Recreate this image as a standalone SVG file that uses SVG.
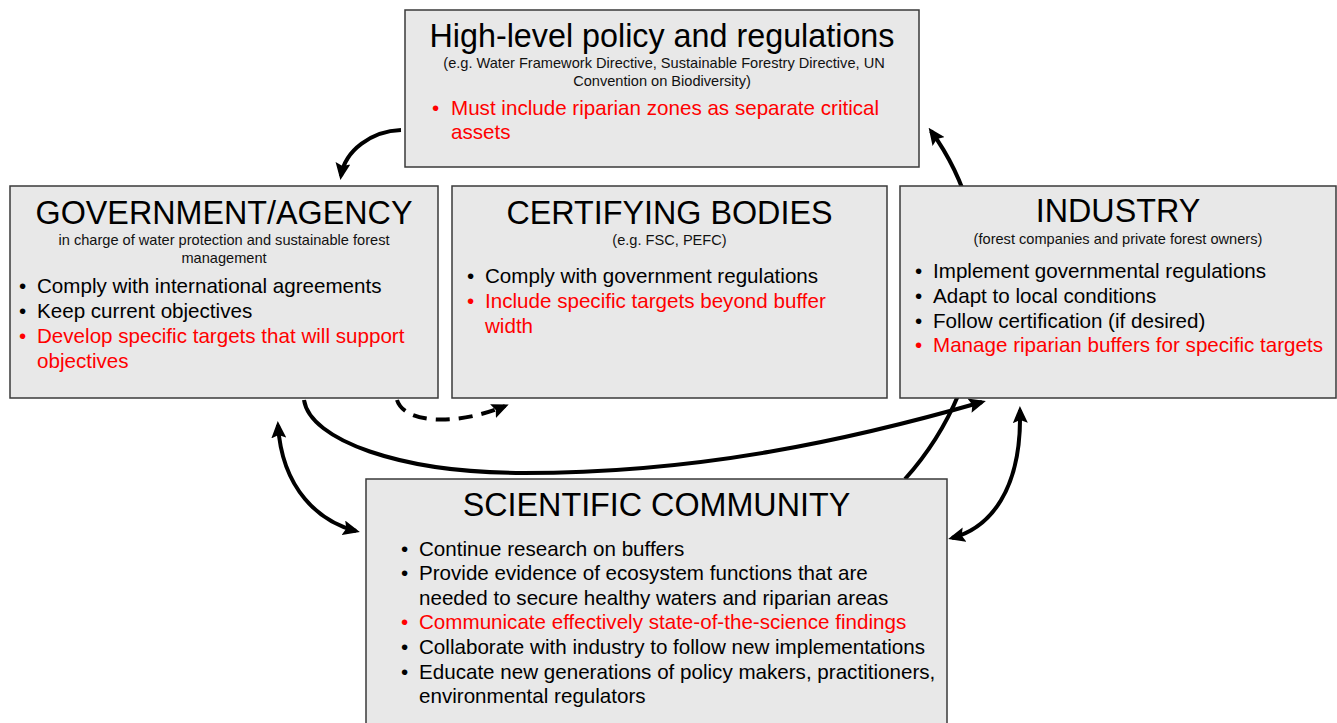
<svg xmlns="http://www.w3.org/2000/svg" width="1337" height="723" viewBox="0 0 1337 723">
<style>
  text { font-family: "Liberation Sans", Arial, sans-serif; fill: #000; }
  .box { fill: #e8e8e8; stroke: #3a3a3a; stroke-width: 1.5; }
  .title { font-size: 32.3px; text-anchor: middle; }
  .sub { font-size: 14.6px; text-anchor: middle; fill: #111; }
  .b { font-size: 20.6px; }
  .red { fill: #ff0000; }
  .conn { fill: none; stroke: #000; stroke-width: 4; }
  .dash { stroke-dasharray: 14 9; }
</style>
<defs>
  <marker id="ah" markerUnits="userSpaceOnUse" markerWidth="17" markerHeight="15" refX="13" refY="7.5" orient="auto-start-reverse">
    <path d="M0,0 L17,7.5 L0,15 L3,7.5 z" fill="#000"/>
  </marker>
</defs>
<rect width="1337" height="723" fill="#fff"/>
<g id="connectors">
  <path class="conn" d="M401,130 C372,131 345,150 341,176" marker-end="url(#ah)"/>
  <path class="conn" d="M905,479 C998,375 1003,230 931,131" marker-end="url(#ah)"/>
  <path class="conn dash" d="M397,400 C405,425 460,425 505,406" marker-end="url(#ah)"/>
  <path class="conn" d="M304,400 C310,440 400,473 524,473 C700,473 850,440 982,402" marker-end="url(#ah)"/>
  <path class="conn" d="M278,425 C282,490 320,522 356,531" marker-start="url(#ah)" marker-end="url(#ah)"/>
  <path class="conn" d="M1020,410 C1022,490 990,528 952,538" marker-start="url(#ah)" marker-end="url(#ah)"/>
</g>
<g id="policy">
  <rect class="box" x="405" y="10" width="514" height="157"/>
  <text class="title" x="662" y="47">High-level policy and regulations</text>
  <text class="sub" x="664" y="68">(e.g. Water Framework Directive, Sustainable Forestry Directive, UN</text>
  <text class="sub" x="662" y="86">Convention on Biodiversity)</text>
  <text class="b red" x="432" y="115">•</text>
  <text class="b red" x="451" y="115">Must include riparian zones as separate critical</text>
  <text class="b red" x="451" y="139">assets</text>
</g>
<g id="government">
  <rect class="box" x="10" y="186" width="428" height="212"/>
  <text class="title" x="224" y="224">GOVERNMENT/AGENCY</text>
  <text class="sub" x="224" y="245">in charge of water protection and sustainable forest</text>
  <text class="sub" x="224" y="263">management</text>
  <text class="b" x="19" y="293">•</text>
  <text class="b" x="37" y="293">Comply with international agreements</text>
  <text class="b" x="19" y="318">•</text>
  <text class="b" x="37" y="318">Keep current objectives</text>
  <text class="b red" x="19" y="343">•</text>
  <text class="b red" x="37" y="343">Develop specific targets that will support</text>
  <text class="b red" x="37" y="368">objectives</text>
</g>
<g id="certifying">
  <rect class="box" x="452" y="186" width="435" height="212"/>
  <text class="title" x="669.5" y="224">CERTIFYING BODIES</text>
  <text class="sub" x="669.5" y="245">(e.g. FSC, PEFC)</text>
  <text class="b" x="467" y="283">•</text>
  <text class="b" x="485" y="283">Comply with government regulations</text>
  <text class="b red" x="467" y="308">•</text>
  <text class="b red" x="485" y="308">Include specific targets beyond buffer</text>
  <text class="b red" x="485" y="333">width</text>
</g>
<g id="industry">
  <rect class="box" x="900" y="186" width="436" height="212"/>
  <text class="title" x="1118" y="222">INDUSTRY</text>
  <text class="sub" x="1118" y="244">(forest companies and private forest owners)</text>
  <text class="b" x="915" y="278">•</text>
  <text class="b" x="933" y="278">Implement governmental regulations</text>
  <text class="b" x="915" y="303">•</text>
  <text class="b" x="933" y="303">Adapt to local conditions</text>
  <text class="b" x="915" y="328">•</text>
  <text class="b" x="933" y="328">Follow certification (if desired)</text>
  <text class="b red" x="915" y="352">•</text>
  <text class="b red" x="933" y="352">Manage riparian buffers for specific targets</text>
</g>
<g id="scientific">
  <rect class="box" x="366" y="479" width="581" height="260"/>
  <text class="title" x="656.5" y="516">SCIENTIFIC COMMUNITY</text>
  <text class="b" x="401" y="556">•</text>
  <text class="b" x="419" y="556">Continue research on buffers</text>
  <text class="b" x="401" y="580">•</text>
  <text class="b" x="419" y="580">Provide evidence of ecosystem functions that are</text>
  <text class="b" x="419" y="605">needed to secure healthy waters and riparian areas</text>
  <text class="b red" x="401" y="629">•</text>
  <text class="b red" x="419" y="629">Communicate effectively state-of-the-science findings</text>
  <text class="b" x="401" y="654">•</text>
  <text class="b" x="419" y="654">Collaborate with industry to follow new implementations</text>
  <text class="b" x="401" y="679">•</text>
  <text class="b" x="419" y="679">Educate new generations of policy makers, practitioners,</text>
  <text class="b" x="419" y="703">environmental regulators</text>
</g>
</svg>
